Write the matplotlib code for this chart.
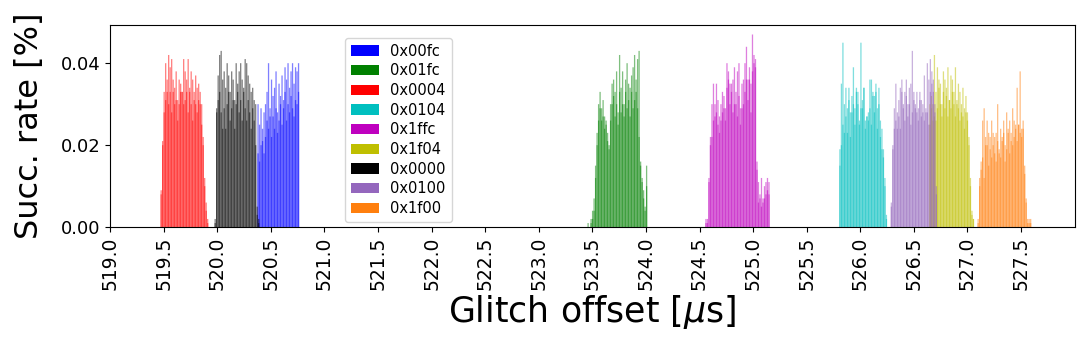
import matplotlib
matplotlib.use('Agg')
import matplotlib.pyplot as plt
import numpy as np
from matplotlib.patches import Patch

step = 0.014

# masks, colours, first offset [us] of each sweep
masks = ['0x00fc', '0x01fc', '0x0004', '0x0104', '0x1ffc', '0x1f04', '0x0000', '0x0100', '0x1f00']
colors = ['b', 'g', 'r', 'c', 'm', 'y', 'k', 'tab:purple', 'tab:orange']
starts = [520.38, 523.46, 519.476, 525.81, 524.56, 526.65, 519.98, 526.29, 527.10]

# two runs per mask, success rate [%]
blue_a = [0.018, 0.016, 0.020, 0.024, 0.018, 0.022, 0.026, 0.024, 0.029, 0.022, 0.027, 0.024, 0.029, 0.023,
          0.026, 0.030, 0.025, 0.029, 0.033, 0.026, 0.030, 0.028, 0.032, 0.029, 0.027, 0.031, 0.030, 0.033]
blue_b = [0.030, 0.025, 0.029, 0.021, 0.028, 0.030, 0.033, 0.040, 0.027, 0.036, 0.032, 0.034, 0.038, 0.028,
          0.035, 0.032, 0.037, 0.031, 0.039, 0.036, 0.040, 0.034, 0.038, 0.040, 0.035, 0.039, 0.038, 0.040]

green_a = [0.000, 0.000, 0.001, 0.002, 0.004, 0.012, 0.020, 0.026, 0.029, 0.026, 0.027, 0.024, 0.025, 0.021,
           0.019, 0.026, 0.030, 0.032, 0.027, 0.030, 0.025, 0.033, 0.028, 0.030, 0.027, 0.033, 0.029, 0.031,
           0.027, 0.033, 0.029, 0.031, 0.033, 0.029, 0.022, 0.015, 0.011, 0.007, 0.004, 0.010]
green_b = [0.001, 0.000, 0.002, 0.004, 0.007, 0.015, 0.023, 0.030, 0.033, 0.029, 0.031, 0.027, 0.026, 0.023,
           0.020, 0.030, 0.035, 0.036, 0.033, 0.038, 0.028, 0.042, 0.034, 0.038, 0.030, 0.036, 0.040, 0.035,
           0.034, 0.037, 0.039, 0.042, 0.036, 0.041, 0.043, 0.016, 0.012, 0.009, 0.005, 0.015]

red_a = [0.009, 0.021, 0.028, 0.031, 0.033, 0.030, 0.033, 0.028, 0.033, 0.030, 0.031, 0.026, 0.030, 0.033,
         0.033, 0.030, 0.031, 0.033, 0.028, 0.033, 0.030, 0.026, 0.031, 0.030, 0.028, 0.031, 0.030, 0.025,
         0.020, 0.012, 0.006, 0.002]
red_b = [0.008, 0.020, 0.033, 0.040, 0.036, 0.042, 0.039, 0.041, 0.036, 0.034, 0.038, 0.031, 0.036, 0.035,
         0.033, 0.041, 0.038, 0.036, 0.041, 0.034, 0.038, 0.036, 0.033, 0.037, 0.034, 0.035, 0.033, 0.030,
         0.022, 0.010, 0.004, 0.001]

cyan_a = [0.015, 0.020, 0.025, 0.023, 0.027, 0.023, 0.031, 0.022, 0.028, 0.030, 0.025, 0.033, 0.030, 0.026,
          0.029, 0.031, 0.034, 0.024, 0.027, 0.026, 0.029, 0.025, 0.033, 0.028, 0.033, 0.024, 0.030, 0.022,
          0.019, 0.017, 0.010, 0.002]
cyan_b = [0.019, 0.035, 0.045, 0.030, 0.034, 0.029, 0.034, 0.028, 0.032, 0.039, 0.029, 0.034, 0.033, 0.025,
          0.045, 0.029, 0.034, 0.026, 0.027, 0.028, 0.036, 0.036, 0.032, 0.032, 0.035, 0.029, 0.034, 0.026,
          0.024, 0.019, 0.012, 0.003]

magenta_a = [0.001, 0.002, 0.012, 0.022, 0.022, 0.026, 0.030, 0.028, 0.025, 0.023, 0.026, 0.028, 0.029, 0.026,
             0.034, 0.038, 0.030, 0.035, 0.028, 0.030, 0.033, 0.027, 0.032, 0.025, 0.029, 0.030, 0.033, 0.036,
             0.031, 0.036, 0.028, 0.038, 0.040, 0.039, 0.016, 0.006, 0.008, 0.005, 0.006, 0.007, 0.008, 0.009,
             0.008]
magenta_b = [0.002, 0.001, 0.011, 0.020, 0.030, 0.035, 0.027, 0.035, 0.031, 0.027, 0.030, 0.033, 0.032, 0.029,
             0.040, 0.036, 0.035, 0.033, 0.036, 0.039, 0.030, 0.038, 0.040, 0.029, 0.035, 0.036, 0.040, 0.044,
             0.036, 0.039, 0.035, 0.047, 0.042, 0.041, 0.014, 0.011, 0.007, 0.012, 0.007, 0.010, 0.011, 0.012,
             0.011]

yellow_a = [0.025, 0.029, 0.030, 0.027, 0.026, 0.029, 0.034, 0.030, 0.027, 0.033, 0.029, 0.032, 0.027, 0.031,
            0.029, 0.033, 0.030, 0.027, 0.031, 0.029, 0.026, 0.030, 0.027, 0.024, 0.028, 0.026, 0.020, 0.012,
            0.003, 0.002]
yellow_b = [0.030, 0.032, 0.026, 0.042, 0.033, 0.039, 0.036, 0.035, 0.030, 0.038, 0.036, 0.034, 0.039, 0.031,
            0.037, 0.036, 0.033, 0.039, 0.030, 0.035, 0.033, 0.028, 0.034, 0.029, 0.032, 0.028, 0.022, 0.010,
            0.004, 0.002]

black_a = [0.001, 0.029, 0.031, 0.033, 0.028, 0.024, 0.029, 0.024, 0.030, 0.033, 0.026, 0.029, 0.031, 0.024,
           0.030, 0.033, 0.028, 0.031, 0.026, 0.033, 0.029, 0.026, 0.031, 0.028, 0.024, 0.029, 0.026, 0.020,
           0.005, 0.002]
black_b = [0.002, 0.028, 0.037, 0.042, 0.043, 0.036, 0.038, 0.034, 0.040, 0.037, 0.033, 0.038, 0.036, 0.031,
           0.040, 0.035, 0.038, 0.040, 0.036, 0.034, 0.041, 0.040, 0.037, 0.035, 0.033, 0.034, 0.031, 0.030,
           0.003, 0.001]

purple_a = [0.006, 0.019, 0.024, 0.026, 0.024, 0.027, 0.024, 0.033, 0.029, 0.026, 0.032, 0.027, 0.030, 0.025,
            0.028, 0.031, 0.029, 0.028, 0.026, 0.031, 0.027, 0.028, 0.026, 0.029, 0.028, 0.025, 0.033, 0.035,
            0.036, 0.030, 0.010]
purple_b = [0.005, 0.020, 0.029, 0.035, 0.028, 0.031, 0.034, 0.036, 0.030, 0.033, 0.036, 0.030, 0.034, 0.035,
            0.043, 0.033, 0.030, 0.033, 0.029, 0.033, 0.031, 0.030, 0.037, 0.028, 0.040, 0.036, 0.041, 0.038,
            0.033, 0.028, 0.008]

orange_a = [0.002, 0.010, 0.014, 0.017, 0.012, 0.022, 0.020, 0.015, 0.022, 0.017, 0.023, 0.018, 0.016, 0.021,
            0.018, 0.017, 0.022, 0.023, 0.016, 0.019, 0.024, 0.018, 0.023, 0.020, 0.022, 0.025, 0.021, 0.025,
            0.023, 0.022, 0.024, 0.015, 0.007, 0.001, 0.002, 0.001]
orange_b = [0.001, 0.012, 0.016, 0.026, 0.029, 0.020, 0.026, 0.023, 0.019, 0.026, 0.020, 0.022, 0.023, 0.030,
            0.019, 0.024, 0.021, 0.026, 0.020, 0.028, 0.023, 0.026, 0.021, 0.029, 0.026, 0.024, 0.034, 0.025,
            0.038, 0.024, 0.026, 0.013, 0.006, 0.002, 0.001, 0.002]

runs = [(blue_a, blue_b), (green_a, green_b), (red_a, red_b), (cyan_a, cyan_b), (magenta_a, magenta_b),
        (yellow_a, yellow_b), (black_a, black_b), (purple_a, purple_b), (orange_a, orange_b)]

fig = plt.figure(figsize=(10.8, 3.5), dpi=100)
ax = fig.add_axes([0.102, 0.351, 0.893, 0.578])

for (ra, rb), c, x0 in zip(runs, colors, starts):
    for r in (ra, rb):
        x = x0 + step * np.arange(len(r))
        ax.bar(x, r, width=0.012, color=c, alpha=0.5, linewidth=0, snap=False)

ax.set_xlim(519, 528)
ticks = np.arange(519, 528, 0.5)
ax.set_xticks(ticks)
ax.set_xticklabels(['%.1f' % t for t in ticks], rotation=90, fontsize=13.5)
ax.set_yticks([0, 0.02, 0.04])
ax.set_yticklabels(['0.00', '0.02', '0.04'], fontsize=13)
ax.set_xlabel(r'Glitch offset [$\mu$s]', fontsize=25, labelpad=2)
ax.set_ylabel('Succ. rate [%]', fontsize=23, labelpad=11)

handles = [Patch(facecolor=c, label=m) for m, c in zip(masks, colors)]
ax.legend(handles=handles, loc='upper left', bbox_to_anchor=(0.2435, 0.936), fontsize=10.5,
          handlelength=1.9, labelspacing=0.32, borderaxespad=0)

fig.savefig('out.png', dpi=100)
